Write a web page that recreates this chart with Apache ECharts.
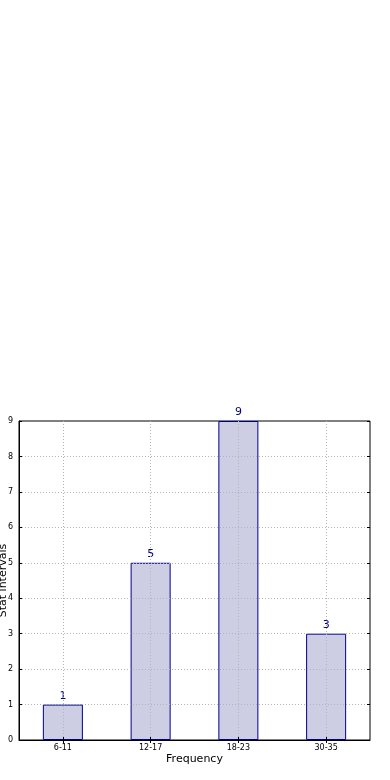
<!DOCTYPE html>
<html><head><meta charset="utf-8">
<script src="https://cdn.jsdelivr.net/npm/echarts@6/dist/echarts.min.js"></script>
<style>html,body{margin:0;padding:0;background:#fff}#c{width:390px;height:780px}</style>
</head><body><div id="c"></div>
<script>
const categories = ['6-11', '12-17', '18-23', '30-35'];
const values = [1, 5, 9, 3];
const yTicks = [0, 1, 2, 3, 4, 5, 6, 7, 8, 9];

const chart = echarts.init(document.getElementById('c'), null, {renderer: 'canvas'});
const font = 'DejaVu Sans';
const dotted = {color: '#b4b4b4', type: [1, 2], width: 1};
const gridMarks = categories.map(c => ({xAxis: c})).concat(yTicks.slice(1, -1).map(v => ({yAxis: v})));
chart.setOption({
  animation: false,
  textStyle: {fontFamily: font},
  grid: {left: 19, right: 20, top: 421, bottom: 40, containLabel: false, outerBoundsMode: 'none',
         show: true, borderColor: '#000', borderWidth: 1, backgroundColor: '#fff'},
  xAxis: [{
    type: 'category', data: categories, z: 5,
    name: 'Frequency', nameLocation: 'middle', nameGap: 14,
    nameTextStyle: {fontSize: 11, color: '#000', fontFamily: font},
    axisLine: {show: true, lineStyle: {color: '#000'}},
    axisTick: {show: true, inside: true, alignWithLabel: true, length: 3, lineStyle: {color: '#000'}},
    axisLabel: {fontSize: 8, color: '#000', margin: 4, fontFamily: font},
    splitLine: {show: false}
  }, {
    type: 'category', data: categories, position: 'top', z: 5,
    axisLine: {show: false},
    axisTick: {show: true, inside: true, alignWithLabel: true, length: 3, lineStyle: {color: '#000'}},
    axisLabel: {show: false}, splitLine: {show: false}
  }],
  yAxis: [{
    type: 'value', min: 0, max: 9, interval: 1, z: 5,
    name: 'Stat intervals', nameLocation: 'middle', nameGap: 10, nameMoveOverlap: false,
    nameTextStyle: {fontSize: 11, color: '#000', fontFamily: font},
    axisLine: {show: true, lineStyle: {color: '#000'}},
    axisTick: {show: true, inside: true, length: 3, lineStyle: {color: '#000'}},
    axisLabel: {fontSize: 8, color: '#000', margin: 6, fontFamily: font},
    splitLine: {show: false}
  }, {
    type: 'value', min: 0, max: 9, interval: 1, position: 'right', z: 5,
    axisLine: {show: false},
    axisTick: {show: true, inside: true, length: 3, lineStyle: {color: '#000'}},
    axisLabel: {show: false}, splitLine: {show: false}
  }],
  series: [{
    type: 'bar', data: values, barWidth: '45.6%', z: 2,
    itemStyle: {color: '#cdcde4', borderColor: '#00008b', borderWidth: 1},
    label: {show: true, position: 'top', distance: 3, fontSize: 11, color: '#000080', fontFamily: font}
  }, {
    type: 'line', data: [], z: 4, silent: true,
    markLine: {silent: true, symbol: 'none', label: {show: false}, lineStyle: dotted, animation: false,
               emphasis: {disabled: true}, data: gridMarks}
  }]
});
</script></body></html>
